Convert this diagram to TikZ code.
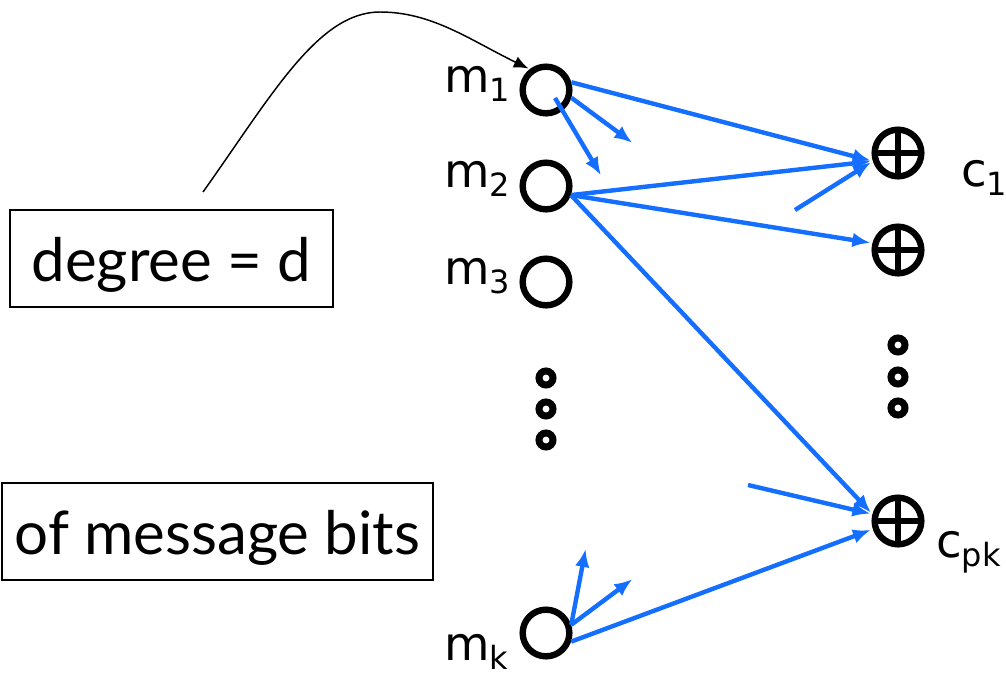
\documentclass[tikz,border=0pt]{standalone}
\usepackage{fontspec}
\setmainfont{Lato}
\newfontfamily\hand{DejaVu Sans}
\usetikzlibrary{arrows.meta,calc}
\definecolor{arrblue}{RGB}{20,110,255}
\newcommand\sbs[1]{\raisebox{-7pt}{\fontsize{24}{24}\selectfont #1}}
\begin{document}
\begin{tikzpicture}[x=0.75pt,y=-0.75pt,
  bit/.style={circle,draw,line width=4.8pt,minimum size=35pt,inner sep=0pt},
  xor/.style={circle,draw,line width=4.8pt,minimum size=35pt,inner sep=0pt,
    path picture={\draw[line width=4.5pt]
      (path picture bounding box.north) -- (path picture bounding box.south)
      (path picture bounding box.west) -- (path picture bounding box.east);}},
  vdot/.style={circle,draw,line width=5.25pt,minimum size=10.5pt,inner sep=0pt},
  lab/.style={anchor=base west,inner sep=0pt,font=\hand\fontsize{35}{40}\selectfont},
  box/.style={draw,line width=1.1pt,minimum height=72.75pt,inner sep=0pt,
    text height=40pt,text depth=5pt,font=\fontsize{45}{50}\selectfont},
  barrow/.style={arrblue,line width=3.3pt,shorten >=1.5pt,-{Latex[length=13.5pt,width=11pt]}},
  karrow/.style={black,line width=1.1pt,shorten >=1pt,-{Latex[length=11pt,width=9pt]}},
]
\useasboundingbox (0,0) rectangle (1006,678);

% message bit nodes
\node[bit] (m1) at (546,90) {};
\node[bit] (m2) at (546,186) {};
\node[bit] (m3) at (546,282) {};
\node[bit] (mk) at (546,633) {};
\node[vdot] (ld1) at (546,378) {};
\node[vdot] (ld2) at (546,409) {};
\node[vdot] (ld3) at (546,440) {};

% check nodes
\node[xor] (c1) at (898,153) {};
\node[xor] (c2) at (898,250) {};
\node[xor] (cp) at (898,521) {};
\node[vdot] (rd1) at (898,345) {};
\node[vdot] (rd2) at (898,377) {};
\node[vdot] (rd3) at (898,408) {};

% labels
\node[lab] (lm1) at (444,92) {m\sbs{1}};
\node[lab] (lm2) at (444,187) {m\sbs{2}};
\node[lab] (lm3) at (444,284) {m\sbs{3}};
\node[lab] (lmk) at (444,660) {m\sbs{k}};
\node[lab] (lc1) at (961,186) {c\sbs{1}};
\node[lab] (lcp) at (936,557) {c\sbs{pk}};

% boxes
\node[box,minimum width=242pt] (deg) at (171.5,258.5) {degree = d};
\node[box,minimum width=323pt] (msg) at (217.5,531.5) {of message bits};

% black curved arrow
\coordinate (cs) at (203,192);
\coordinate (cpk1) at (380,12);
\draw[karrow] (cs) .. controls (272,95) and (318,12) .. (cpk1)
  .. controls (432,12) and (470,40) .. (m1.128);

% free ends of short arrows
\coordinate (t1) at (634,144);
\coordinate (t2) at (602,177);
\coordinate (s1) at (795,210);
\coordinate (s2) at (748,485);
\coordinate (t3) at (586,547);
\coordinate (t4) at (634,578);

% blue connectors
\draw[barrow] (m1.17) -- (c1.198);
\draw[barrow] (m1.-17) -- (t1);
\draw[barrow] ([shift={(9,8)}]m1.center) -- (t2);
\draw[barrow] (m2.-20) -- (c1.198);
\draw[barrow] (m2.-20) -- (c2.165);
\draw[barrow] (m2.-20) -- (cp.165);
\draw[barrow] (s1) -- (c1.198);
\draw[barrow] (s2) -- (cp.165);
\draw[barrow] (mk.-19) -- (cp.198);
\draw[barrow] (mk.18) -- (t3);
\draw[barrow] (mk.18) -- (t4);
\end{tikzpicture}
\end{document}
